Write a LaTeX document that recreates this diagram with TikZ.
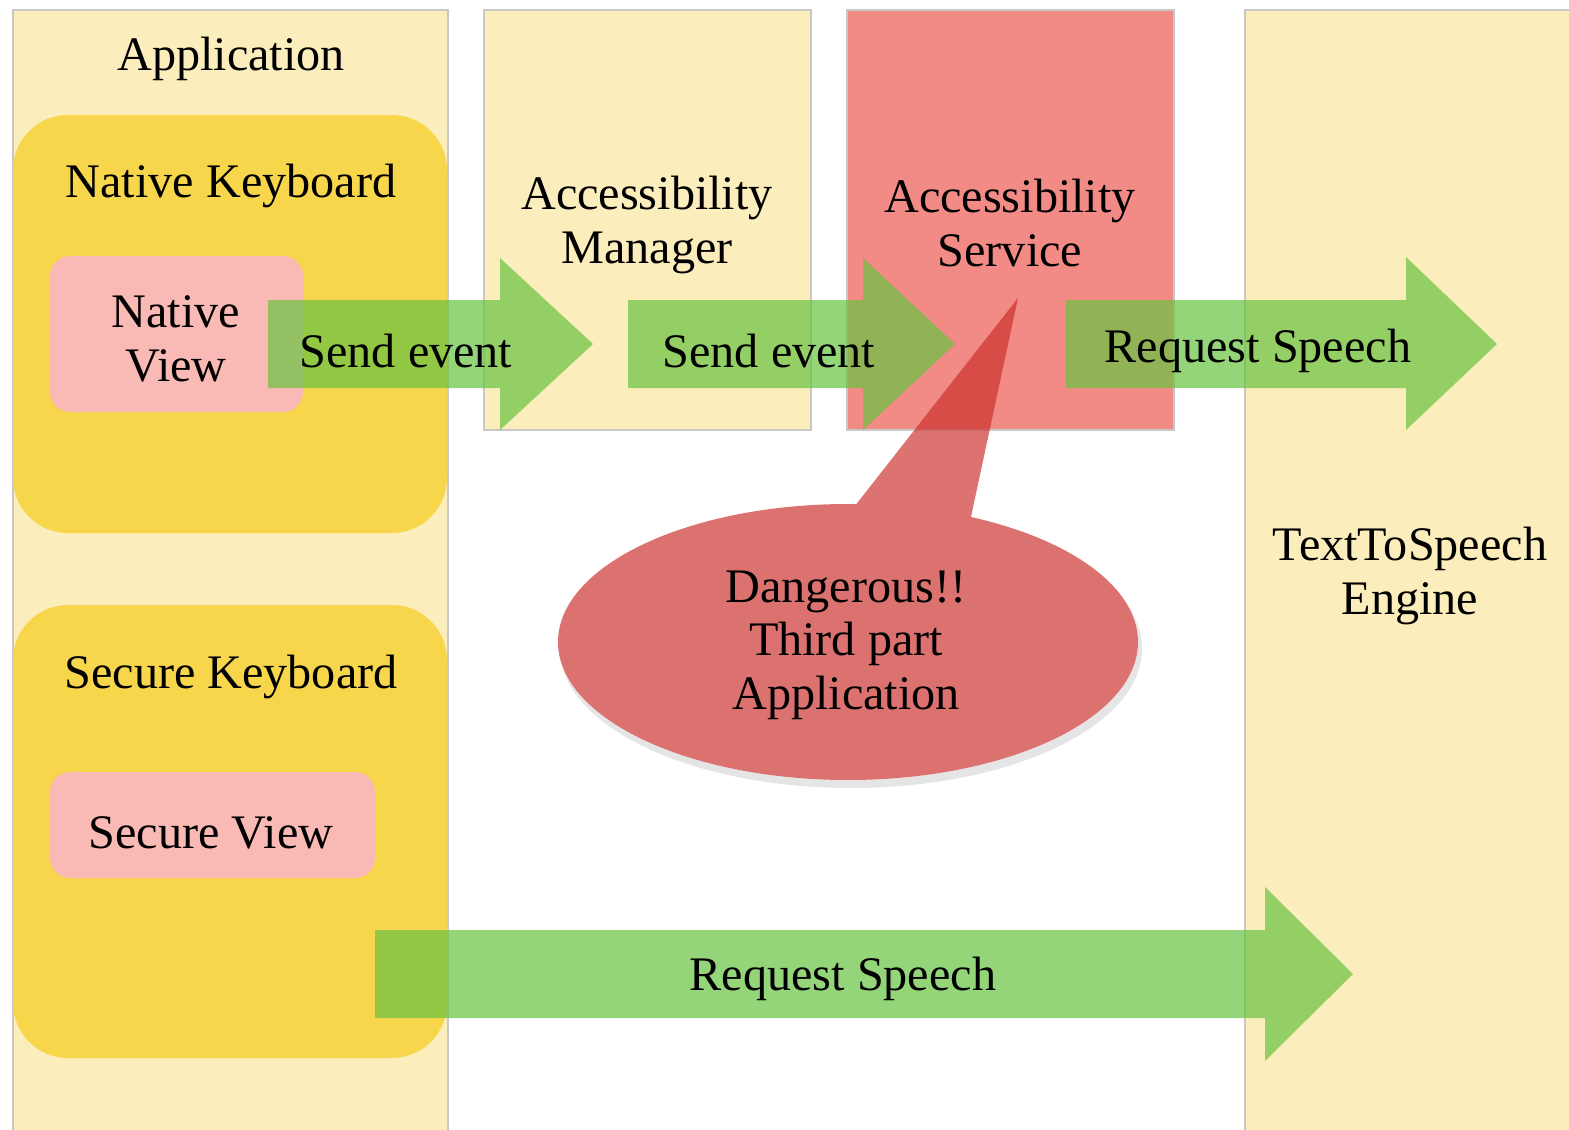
\documentclass[tikz,border=0pt]{standalone}
\usepackage{fontspec}
\setmainfont{Liberation Serif}
\definecolor{colfill}{HTML}{FCEDBC}
\definecolor{colline}{HTML}{C8C8C8}
\definecolor{keyfill}{HTML}{F8D64C}
\definecolor{viewfill}{HTML}{F9B9B4}
\definecolor{servfill}{HTML}{F28A85}
\definecolor{flowfill}{HTML}{68C341}
\definecolor{warnfill}{HTML}{CC302C}
\tikzset{
  column/.style={fill=colfill, draw=colline, line width=0.6pt},
  keyboard/.style={fill=keyfill, rounded corners=0.55cm},
  view/.style={fill=viewfill, rounded corners=0.2cm},
  flow/.style={fill=flowfill, opacity=0.7},
  lbl/.style={font=\fontsize{13.7}{15.2}\selectfont, align=center, inner sep=0pt},
}
\begin{document}
\begin{tikzpicture}[x=0.01cm, y=-0.01cm]
  \useasboundingbox (0,0) rectangle (1569,1130);
  % columns
  \draw[column] (13,10) rectangle (448,1145);
  \draw[column] (484,10) rectangle (811,430);
  \draw[column, fill=servfill] (847,10) rectangle (1174,430);
  \draw[column] (1245,10) rectangle (1590,1145);
  % keyboards and views
  \fill[keyboard] (13,115) rectangle (447,533);
  \fill[keyboard] (13,605) rectangle (447,1058);
  \fill[view] (50,256) rectangle (303,412);
  \fill[view] (50,772) rectangle (375,878);
  % titles
  \node[lbl] (app) at (231,59) {Application};
  \node[lbl] (nkb) at (231,186) {Native Keyboard};
  \node[lbl] (nview) at (176,339) {Native\\View};
  \node[lbl] (skb) at (231,677) {Secure Keyboard};
  \node[lbl] (sview) at (211,833) {Secure View};
  \node[lbl] (mgr) at (647,225) {Accessibility\\Manager};
  \node[lbl] (srv) at (1010,223) {Accessibility\\Service};
  \node[lbl] (tts) at (1410,576) {TextToSpeech\\Engine};
  % block arrows
  \fill[flow] (268,300) -- (500,300) -- (500,258) -- (593,344) -- (500,430) -- (500,388) -- (268,388) -- cycle;
  \fill[flow] (628,300) -- (863,300) -- (863,258) -- (955,344) -- (863,430) -- (863,388) -- (628,388) -- cycle;
  \fill[flow] (1066,300) -- (1406,300) -- (1406,257) -- (1497,344) -- (1406,430) -- (1406,388) -- (1066,388) -- cycle;
  \fill[flow] (375,930) -- (1265,930) -- (1265,887) -- (1353,974) -- (1265,1061) -- (1265,1018) -- (375,1018) -- cycle;
  \node[lbl] (ev1) at (406,351) {Send event};
  \node[lbl] (ev2) at (769,351) {Send event};
  \node[lbl] (sp1) at (1258,351) {Request Speech};
  \node[lbl] (sp2) at (843,979) {Request Speech};
  % callout
  \fill[black, opacity=0.1] (851,649) ellipse [x radius=291, y radius=139];
  \fill[white] (848,642) ellipse [x radius=290, y radius=138];
  \begin{scope}[transparency group, opacity=0.68]
    \fill[warnfill] (848,642) ellipse [x radius=290, y radius=138];
    \fill[warnfill] (836,530) -- (1018,298) -- (966,540) -- cycle;
  \end{scope}
  \node[lbl] (warn) at (846,645) {Dangerous!!\\Third part\\Application};
\end{tikzpicture}
\end{document}
